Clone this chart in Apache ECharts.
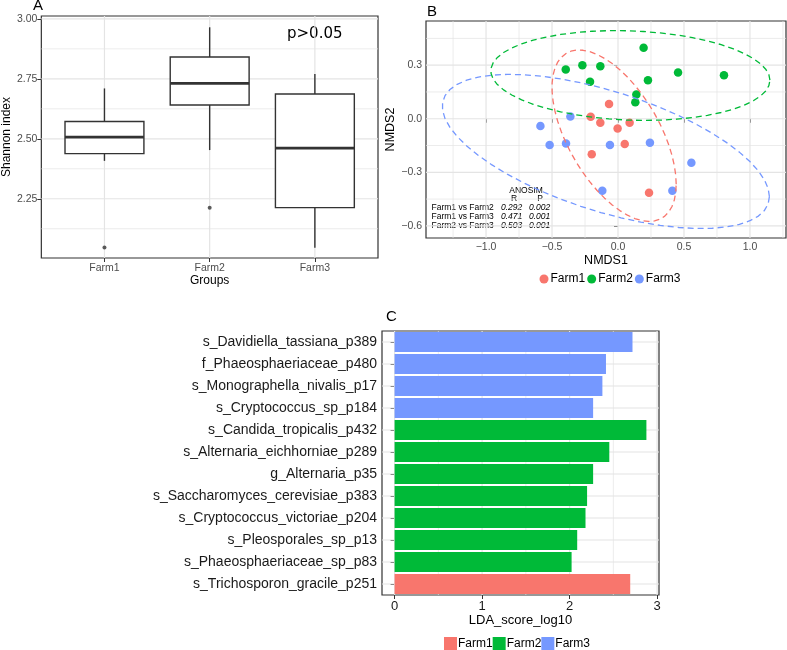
<!DOCTYPE html>
<html><head><meta charset="utf-8">
<script src="https://cdn.jsdelivr.net/npm/echarts@6/dist/echarts.min.js"></script>
<style>html,body{margin:0;padding:0;background:#fff}#c{width:787px;height:650px}</style>
</head><body><div id="c"></div><script>
// ---------- Panel A: Shannon index boxplots ----------
const groupsA = ['Farm1', 'Farm2', 'Farm3'];
const shannonLowerWhisker = [2.408, 2.453, 2.046];
const shannonQ1 = [2.438, 2.641, 2.213];
const shannonMedian = [2.507, 2.731, 2.461];
const shannonQ3 = [2.572, 2.841, 2.687];
const shannonUpperWhisker = [2.710, 2.965, 2.770];
const shannonOutlierGroup = [0, 1];
const shannonOutlierValue = [2.047, 2.213];
const shannonTicks = [2.25, 2.50, 2.75, 3.00];
const shannonMinorTicks = [2.125, 2.375, 2.625, 2.875];

// ---------- Panel B: NMDS ----------
const farm1Nmds = [[-0.068, 0.082], [-0.207, 0.011], [-0.134, -0.022], [-0.003, -0.054], [0.088, -0.022], [0.051, -0.142], [-0.199, -0.199], [0.235, -0.415]];
const farm2Nmds = [[0.194, 0.397], [-0.396, 0.276], [-0.270, 0.300], [-0.134, 0.294], [-0.212, 0.207], [0.227, 0.216], [0.455, 0.259], [0.803, 0.244], [0.139, 0.136], [0.131, 0.093]];
const farm3Nmds = [[-0.361, 0.013], [-0.588, -0.041], [-0.518, -0.147], [-0.394, -0.138], [-0.061, -0.147], [0.242, -0.134], [0.556, -0.246], [-0.119, -0.404], [0.412, -0.404]];
const nmds1Ticks = [-1.0, -0.5, 0.0, 0.5, 1.0];
const nmds1MinorTicks = [-1.25, -0.75, -0.25, 0.25, 0.75, 1.25];
const nmds2Ticks = [-0.6, -0.3, 0.0, 0.3];
const nmds2MinorTicks = [-0.45, -0.15, 0.15, 0.45];
const anosimPairs = ['Farm1 vs Farm2', 'Farm1 vs Farm3', 'Farm2 vs Farm3'];
const anosimR = ['0.292', '0.471', '0.503'];
const anosimP = ['0.002', '0.001', '0.001'];

// ---------- Panel C: LDA ----------
const taxa = ['s_Davidiella_tassiana_p389', 'f_Phaeosphaeriaceae_p480', 's_Monographella_nivalis_p17', 's_Cryptococcus_sp_p184',
  's_Candida_tropicalis_p432', 's_Alternaria_eichhorniae_p289', 'g_Alternaria_p35', 's_Saccharomyces_cerevisiae_p383',
  's_Cryptococcus_victoriae_p204', 's_Pleosporales_sp_p13', 's_Phaeosphaeriaceae_sp_p83', 's_Trichosporon_gracile_p251'];
const taxaGroup = ['Farm3', 'Farm3', 'Farm3', 'Farm3', 'Farm2', 'Farm2', 'Farm2', 'Farm2', 'Farm2', 'Farm2', 'Farm2', 'Farm1'];
const ldaScore = [2.719, 2.416, 2.375, 2.269, 2.878, 2.454, 2.269, 2.200, 2.182, 2.087, 2.023, 2.693];
const ldaTicks = [0, 1, 2, 3];
const ldaMinorTicks = [0.5, 1.5, 2.5];

const farmNames = ['Farm1', 'Farm2', 'Farm3'];
const farmColors = { Farm1: '#F8766D', Farm2: '#00BA38', Farm3: '#7598FF' };

// stat_ellipse-like (level 0.95) from the point cloud
function statEllipse(pts, level, segments) {
  const n = pts.length;
  let mx = 0, my = 0;
  pts.forEach(p => { mx += p[0]; my += p[1]; });
  mx /= n; my /= n;
  let sxx = 0, syy = 0, sxy = 0;
  pts.forEach(p => { sxx += (p[0] - mx) ** 2; syy += (p[1] - my) ** 2; sxy += (p[0] - mx) * (p[1] - my); });
  sxx /= (n - 1); syy /= (n - 1); sxy /= (n - 1);
  const dfd = n - 1;
  const fq = (dfd / 2) * (Math.pow(1 - level, -2 / dfd) - 1);
  const r = Math.sqrt(2 * fq);
  const a = Math.sqrt(sxx), b = sxy / a, c = Math.sqrt(syy - b * b);
  const out = [];
  for (let i = 0; i <= segments; i++) {
    const t = 2 * Math.PI * i / segments;
    const u = Math.cos(t), v = Math.sin(t);
    out.push([mx + r * u * a, my + r * (u * b + v * c)]);
  }
  return out;
}

function gridRender(params, api) {
  const cs = params.coordSys;
  const p = api.coord([api.value(0), api.value(1)]);
  const major = api.value(3) === 1;
  const style = { stroke: '#E4E4E4', lineWidth: major ? 1.2 : 0.7, fill: null };
  if (api.value(2) === 0) return { type: 'line', z2: 0, shape: { x1: p[0], y1: cs.y, x2: p[0], y2: cs.y + cs.height }, style };
  return { type: 'line', z2: 0, shape: { x1: cs.x, y1: p[1], x2: cs.x + cs.width, y2: p[1] }, style };
}

const gridA = [];
groupsA.forEach((g, i) => gridA.push([i + 1, 2.5, 0, 1]));
shannonTicks.forEach(v => gridA.push([2, v, 1, 1]));
shannonMinorTicks.forEach(v => gridA.push([2, v, 1, 0]));
const gridB = [];
nmds1Ticks.forEach(v => gridB.push([v, 0, 0, 1]));
nmds1MinorTicks.forEach(v => gridB.push([v, 0, 0, 0]));
nmds2Ticks.forEach(v => gridB.push([0, v, 1, 1]));
nmds2MinorTicks.forEach(v => gridB.push([0, v, 1, 0]));
const gridC = [];
ldaTicks.forEach(v => gridC.push([v, 0, 0, 1]));
ldaMinorTicks.forEach(v => gridC.push([v, 0, 0, 0]));
taxa.forEach((t, i) => gridC.push([1, i, 1, 1]));

const boxData = groupsA.map((g, i) => [i, shannonLowerWhisker[i], shannonQ1[i], shannonMedian[i], shannonQ3[i], shannonUpperWhisker[i]]);
const outlierData = shannonOutlierGroup.map((g, i) => [g + 1, shannonOutlierValue[i]]);

const TXT = '#4D4D4D';
const FONT = 'Liberation Sans, Arial, sans-serif';

const series = [];
series.push({ type: 'custom', name: 'gridA', xAxisIndex: 0, yAxisIndex: 0, z: 2, silent: true, renderItem: gridRender, data: gridA, encode: { x: 0, y: 1 } });
series.push({
  type: 'custom', name: 'box', xAxisIndex: 0, yAxisIndex: 0, z: 3, encode: { x: 0, y: [1, 2, 3, 4, 5] }, data: boxData,
  renderItem(params, api) {
    const x = api.value(0) + 1;
    const lo = api.value(1), q1 = api.value(2), md = api.value(3), q3 = api.value(4), hi = api.value(5);
    const half = 0.375;
    const pL = api.coord([x - half, q3]), pR = api.coord([x + half, q1]);
    const c = v => api.coord([x, v]);
    const st = { stroke: '#333333', lineWidth: 1.4 };
    const mL = api.coord([x - half, md]), mR = api.coord([x + half, md]);
    return {
      type: 'group', children: [
        { type: 'line', shape: { x1: c(q3)[0], y1: c(q3)[1], x2: c(hi)[0], y2: c(hi)[1] }, style: st },
        { type: 'line', shape: { x1: c(q1)[0], y1: c(q1)[1], x2: c(lo)[0], y2: c(lo)[1] }, style: st },
        { type: 'rect', shape: { x: pL[0], y: pL[1], width: pR[0] - pL[0], height: pR[1] - pL[1] }, style: { fill: '#fff', stroke: '#333333', lineWidth: 1.4 } },
        { type: 'line', shape: { x1: mL[0], y1: mL[1], x2: mR[0], y2: mR[1] }, style: { stroke: '#333333', lineWidth: 2.8 } }
      ]
    };
  }
});
series.push({ type: 'scatter', name: 'outliers', xAxisIndex: 0, yAxisIndex: 0, z: 4, symbolSize: 4, itemStyle: { color: '#333333' }, data: outlierData });

series.push({ type: 'custom', name: 'gridB', xAxisIndex: 1, yAxisIndex: 1, z: 2, silent: true, renderItem: gridRender, data: gridB, encode: { x: 0, y: 1 } });
const nmdsSets = { Farm1: farm1Nmds, Farm2: farm2Nmds, Farm3: farm3Nmds };
farmNames.forEach(f => series.push({ type: 'scatter', name: f, xAxisIndex: 1, yAxisIndex: 1, z: 3, symbolSize: 8.5, itemStyle: { color: farmColors[f], opacity: 1 }, data: nmdsSets[f] }));
farmNames.forEach(f => series.push({
  type: 'line', name: f + ' ellipse', xAxisIndex: 1, yAxisIndex: 1, z: 4, showSymbol: false, symbol: 'none', silent: true,
  lineStyle: { color: farmColors[f], width: 1.3, type: [6, 4] }, data: statEllipse(nmdsSets[f], 0.95, 51)
}));

series.push({ type: 'custom', name: 'gridC', xAxisIndex: 2, yAxisIndex: 2, z: 2, silent: true, renderItem: gridRender, data: gridC, encode: { x: 0, y: 1 } });
farmNames.forEach(f => series.push({
  type: 'bar', name: f, xAxisIndex: 2, yAxisIndex: 2, z: 3, stack: 'lda', barCategoryGap: '10%',
  itemStyle: { color: farmColors[f] },
  data: ldaScore.map((v, i) => taxaGroup[i] === f ? v : '-')
}));

const tickStyle = { show: true, length: 4, lineStyle: { color: '#333333', width: 1 } };

const option = {
  animation: false,
  backgroundColor: '#fff',
  textStyle: { fontFamily: FONT },
  grid: [
    { left: 35, top: 16, width: 343, height: 242, show: true, borderColor: '#333333', borderWidth: 1.2 },
    { left: 426, top: 21, width: 360, height: 217, show: true, borderColor: '#333333', borderWidth: 1.2 },
    { left: 382, top: 331, width: 277, height: 264, show: true, borderColor: '#333333', borderWidth: 1.2 }
  ],
  xAxis: [
    {
      type: 'value', gridIndex: 0, min: 0.4, max: 3.6, axisLine: { show: false }, splitLine: { show: false },
      axisTick: Object.assign({ customValues: [1, 2, 3] }, tickStyle),
      axisLabel: { customValues: [1, 2, 3], formatter: v => groupsA[Math.round(v) - 1], color: TXT, fontSize: 10.5, margin: 5, fontFamily: FONT },
      name: 'Groups', nameLocation: 'middle', nameGap: 12, nameTextStyle: { color: '#000', fontSize: 12, fontFamily: FONT }
    },
    {
      type: 'value', gridIndex: 1, min: -1.455, max: 1.273, axisLine: { show: false }, splitLine: { show: false },
      axisTick: Object.assign({ customValues: nmds1Ticks }, tickStyle),
      axisLabel: { customValues: nmds1Ticks, formatter: v => (v < 0 ? '\u2212' : '') + Math.abs(v).toFixed(1), color: TXT, fontSize: 10.5, margin: 4, fontFamily: FONT },
      name: 'NMDS1', nameLocation: 'middle', nameGap: 11, nameTextStyle: { color: '#000', fontSize: 12.5, fontFamily: FONT }
    },
    {
      type: 'value', gridIndex: 2, min: -0.144, max: 3.022, axisLine: { show: false }, splitLine: { show: false },
      axisTick: Object.assign({ customValues: ldaTicks }, tickStyle),
      axisLabel: { customValues: ldaTicks, formatter: v => String(v), color: '#1a1a1a', fontSize: 13, margin: 5, fontFamily: FONT },
      name: 'LDA_score_log10', nameLocation: 'middle', nameGap: 16, nameTextStyle: { color: '#000', fontSize: 13, fontFamily: FONT }
    }
  ],
  yAxis: [
    {
      type: 'value', gridIndex: 0, min: 2.003, max: 3.012, axisLine: { show: false }, splitLine: { show: false },
      axisTick: Object.assign({ customValues: shannonTicks }, tickStyle),
      axisLabel: { customValues: shannonTicks, formatter: v => v.toFixed(2), color: TXT, fontSize: 10.5, margin: 4, fontFamily: FONT },
      name: 'Shannon index', nameLocation: 'middle', nameGap: 26, nameRotate: 90, nameTextStyle: { color: '#000', fontSize: 12, fontFamily: FONT }
    },
    {
      type: 'value', gridIndex: 1, min: -0.668, max: 0.5475, axisLine: { show: false }, splitLine: { show: false },
      axisTick: Object.assign({ customValues: nmds2Ticks }, tickStyle),
      axisLabel: { customValues: nmds2Ticks, formatter: v => (v < 0 ? '\u2212' : '') + Math.abs(v).toFixed(1), color: TXT, fontSize: 10.5, margin: 4, fontFamily: FONT },
      name: 'NMDS2', nameLocation: 'middle', nameGap: 24, nameRotate: 90, nameTextStyle: { color: '#000', fontSize: 12.5, fontFamily: FONT }
    },
    {
      type: 'category', gridIndex: 2, data: taxa, inverse: true, axisLine: { show: false }, splitLine: { show: false },
      axisTick: Object.assign({ alignWithLabel: true }, tickStyle),
      axisLabel: { color: '#1a1a1a', fontSize: 14, margin: 5, fontFamily: FONT }
    }
  ],
  legend: [
    {
      data: farmNames, icon: 'circle', itemWidth: 9, itemHeight: 9, itemGap: 2, left: 534.5, top: 268, selectedMode: false,
      textStyle: { fontSize: 12, color: '#000', fontFamily: FONT, padding: [0, 0, 0, -3] }
    },
    {
      data: farmNames, icon: 'rect', itemWidth: 13, itemHeight: 13, itemGap: 0, left: 439, top: 632, selectedMode: false,
      textStyle: { fontSize: 12, color: '#000', fontFamily: FONT, padding: [0, 0, 0, -4] }
    }
  ],
  graphic: [
    { type: 'text', left: 33, top: -2, style: { text: 'A', font: '15px ' + FONT, fill: '#000' } },
    { type: 'text', left: 427, top: 4, style: { text: 'B', font: '15px ' + FONT, fill: '#000' } },
    { type: 'text', left: 386, top: 309, style: { text: 'C', font: '15px ' + FONT, fill: '#000' } },
    { type: 'text', left: 287, top: 27, style: { text: 'p>0.05', font: '15px DejaVu Sans', fill: '#000' } },
    { type: 'text', x: 526, y: 191, style: { text: 'ANOSIM', font: '8.5px ' + FONT, fill: '#000', textAlign: 'center', textVerticalAlign: 'middle' } },
    { type: 'text', x: 514, y: 198.5, style: { text: 'R', font: '8.5px ' + FONT, fill: '#000', textAlign: 'center', textVerticalAlign: 'middle' } },
    { type: 'text', x: 540, y: 198.5, style: { text: 'P', font: '8.5px ' + FONT, fill: '#000', textAlign: 'center', textVerticalAlign: 'middle' } }
  ].concat(
    anosimPairs.map((p, i) => ({ type: 'text', x: 431.5, y: 207.5 + i * 9.3, style: { text: p, font: '8.5px ' + FONT, fill: '#000', textVerticalAlign: 'middle' } })),
    anosimR.map((p, i) => ({ type: 'text', x: 501, y: 207.5 + i * 9.3, style: { text: p, font: 'italic 8.5px ' + FONT, fill: '#000', textVerticalAlign: 'middle' } })),
    anosimP.map((p, i) => ({ type: 'text', x: 529, y: 207.5 + i * 9.3, style: { text: p, font: 'italic 8.5px ' + FONT, fill: '#000', textVerticalAlign: 'middle' } }))
  ),
  series
};

const chart = echarts.init(document.getElementById('c'), null, { renderer: 'canvas' });
chart.setOption(option);
</script></body></html>
